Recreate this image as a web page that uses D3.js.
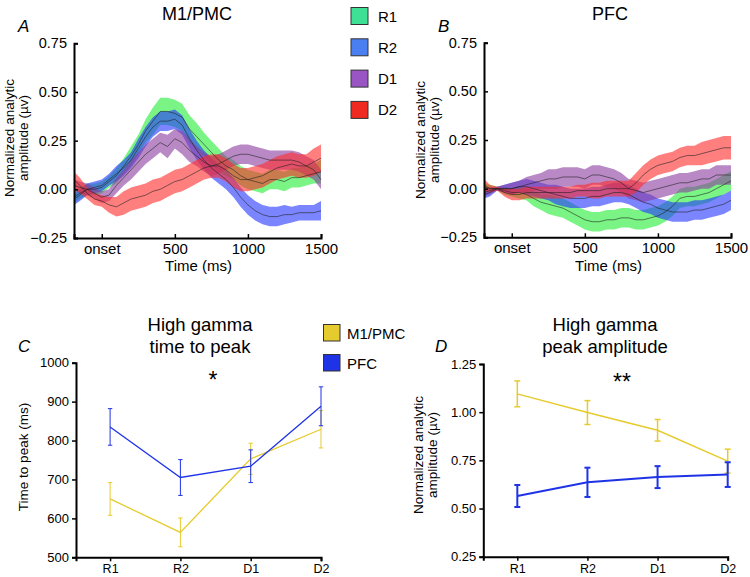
<!DOCTYPE html>
<html><head><meta charset="utf-8">
<script src="https://cdn.jsdelivr.net/npm/d3@7"></script>
<style>
html,body{margin:0;padding:0;background:#fff;}
svg{display:block;font-family:"Liberation Sans",Arial,Helvetica,sans-serif;}
</style></head>
<body><svg id="c" width="750" height="577"></svg>
<script>
// ---------- data ----------
const times = [-190,-150,-100,-50,0,50,100,150,200,250,300,350,400,450,500,550,600,650,700,750,800,850,900,950,1000,1050,1100,1150,1200,1250,1300,1350,1400,1450,1500];
const seriesNames = ["R1","R2","D1","D2"];
const timeTickValues = [0,500,1000,1500];
const timeTickLabels = ["onset","500","1000","1500"];
const ampTicks = [0.75,0.5,0.25,0,-0.25];

// Panel A (M1/PMC)
const A_R1 = [-0.04,-0.02,0.00,0.00,0.01, 0.04,0.07,0.12,0.17,0.23, 0.30,0.35,0.40,0.40,0.39, 0.37,0.31,0.27,0.23,0.19, 0.15,0.12,0.10,0.07,0.05, 0.04,0.03,0.05,0.05,0.04, 0.06,0.06,0.07,0.08,0.09];
const A_R1_sem = [0.03,0.03,0.03,0.03,0.03, 0.03,0.04,0.04,0.05,0.05, 0.06,0.07,0.07,0.07,0.07, 0.07,0.07,0.07,0.06,0.06, 0.06,0.05,0.05,0.05,0.05, 0.05,0.05,0.05,0.05,0.05, 0.05,0.05,0.05,0.05,0.06];
const A_R2 = [-0.05,-0.03,0.00,0.01,0.02, 0.05,0.08,0.11,0.15,0.21, 0.27,0.32,0.35,0.35,0.36, 0.33,0.26,0.20,0.15,0.11, 0.08,0.05,0.01,-0.04,-0.08, -0.11,-0.13,-0.14,-0.14,-0.13, -0.13,-0.12,-0.12,-0.12,-0.11];
const A_R2_sem = [0.03,0.03,0.03,0.03,0.03, 0.03,0.04,0.04,0.04,0.05, 0.05,0.05,0.05,0.05,0.05, 0.05,0.05,0.05,0.05,0.05, 0.05,0.05,0.05,0.05,0.05, 0.05,0.05,0.05,0.05,0.05, 0.04,0.04,0.04,0.04,0.05];
const A_D1 = [0.02,0.01,0.00,-0.02,-0.04, -0.03,0.02,0.06,0.10,0.14, 0.18,0.21,0.24,0.22,0.26, 0.24,0.20,0.17,0.14,0.12, 0.13,0.15,0.17,0.18,0.18, 0.17,0.16,0.15,0.15,0.15, 0.15,0.14,0.12,0.10,0.05];
const A_D1_sem = [0.03,0.03,0.03,0.03,0.03, 0.03,0.04,0.04,0.05,0.05, 0.05,0.05,0.05,0.06,0.05, 0.06,0.06,0.05,0.05,0.05, 0.05,0.05,0.05,0.05,0.05, 0.05,0.05,0.05,0.05,0.05, 0.05,0.05,0.05,0.05,0.05];
const A_D2 = [0.05,0.02,-0.02,-0.05,-0.06, -0.08,-0.09,-0.07,-0.05,-0.04, -0.03,-0.01,0.00,0.02,0.04, 0.05,0.07,0.09,0.11,0.12, 0.12,0.10,0.07,0.05,0.05, 0.06,0.07,0.09,0.11,0.12, 0.13,0.12,0.12,0.14,0.16];
const A_D2_sem = [0.04,0.04,0.03,0.03,0.03, 0.04,0.05,0.06,0.06,0.06, 0.06,0.06,0.06,0.06,0.06, 0.06,0.06,0.06,0.06,0.06, 0.06,0.06,0.06,0.06,0.06, 0.06,0.06,0.06,0.06,0.06, 0.06,0.06,0.06,0.07,0.07];

// Panel B (PFC)
const B_R1 = [0.01,0.00,0.00,-0.01,-0.02, -0.02,-0.03,-0.05,-0.07,-0.08, -0.09,-0.10,-0.12,-0.14,-0.16, -0.17,-0.17,-0.16,-0.16,-0.15, -0.15,-0.16,-0.16,-0.15,-0.14, -0.12,-0.09,-0.05,-0.04,-0.04, -0.03,-0.02,0.00,0.02,0.04];
const B_R1_sem = [0.02,0.02,0.01,0.02,0.02, 0.03,0.03,0.04,0.04,0.05, 0.05,0.05,0.05,0.05,0.05, 0.05,0.05,0.05,0.05,0.05, 0.05,0.05,0.05,0.05,0.05, 0.05,0.05,0.05,0.05,0.05, 0.05,0.05,0.05,0.05,0.05];
const B_R2 = [-0.03,-0.02,0.00,0.00,0.00, 0.01,0.01,0.00,-0.01,-0.02, -0.03,-0.04,-0.05,-0.05,-0.05, -0.04,-0.04,-0.03,-0.02,-0.02, -0.03,-0.05,-0.07,-0.08,-0.10, -0.11,-0.12,-0.12,-0.12,-0.11, -0.11,-0.10,-0.09,-0.08,-0.06];
const B_R2_sem = [0.02,0.02,0.01,0.02,0.03, 0.03,0.04,0.04,0.04,0.04, 0.05,0.05,0.05,0.05,0.05, 0.05,0.05,0.05,0.05,0.05, 0.05,0.05,0.05,0.05,0.05, 0.05,0.05,0.05,0.05,0.05, 0.05,0.05,0.05,0.05,0.05];
const B_D1 = [-0.02,-0.01,0.00,0.00,0.00, 0.01,0.02,0.03,0.04,0.05, 0.05,0.06,0.06,0.06,0.05, 0.07,0.07,0.06,0.05,0.03, 0.00,-0.01,-0.02,-0.01,0.00, 0.01,0.02,0.03,0.03,0.04, 0.05,0.05,0.07,0.07,0.07];
const B_D1_sem = [0.02,0.02,0.01,0.02,0.03, 0.03,0.04,0.04,0.04,0.05, 0.05,0.05,0.05,0.05,0.05, 0.05,0.05,0.05,0.05,0.05, 0.05,0.05,0.05,0.05,0.05, 0.05,0.05,0.05,0.05,0.05, 0.05,0.05,0.05,0.05,0.05];
const B_D2 = [0.02,0.00,0.00,-0.02,-0.03, -0.03,-0.02,-0.02,-0.02,-0.02, -0.02,-0.02,-0.02,-0.01,-0.01, -0.01,-0.01,0.00,0.00,0.00, 0.00,0.03,0.07,0.10,0.12, 0.13,0.14,0.16,0.17,0.17, 0.18,0.19,0.20,0.21,0.21];
const B_D2_sem = [0.03,0.02,0.01,0.02,0.03, 0.03,0.03,0.03,0.03,0.03, 0.03,0.03,0.03,0.03,0.03, 0.04,0.04,0.04,0.04,0.04, 0.04,0.05,0.05,0.05,0.05, 0.05,0.05,0.05,0.05,0.05, 0.06,0.06,0.06,0.06,0.06];

// Panels C & D
const conditions = ["R1","R2","D1","D2"];
const regionNames = ["M1/PMC","PFC"];
const C_m1 = [650, 564, 753, 829];
const C_m1_err = [42, 37, 40, 48];
const C_pfc = [835, 705, 734, 888];
const C_pfc_err = [47, 46, 42, 50];
const C_ticks = [500,600,700,800,900,1000];
const D_m1 = [1.095, 0.998, 0.906, 0.746];
const D_m1_err = [0.067, 0.062, 0.056, 0.062];
const D_pfc = [0.565, 0.636, 0.663, 0.676];
const D_pfc_err = [0.057, 0.076, 0.057, 0.064];
const D_ticks = [0.25,0.5,0.75,1.0,1.25];

// ---------- styles ----------
const bandColors = ["#22ee33","#2233ff","#8a3a9e","#ff2a2a"];
const legendColors = ["#3ee096","#4a7ff2","#9a55c4","#f02a20"];
const regionColors = ["#e6cb2e","#1f33e6"];
const font = '"Liberation Sans",Arial,Helvetica,sans-serif';

const svg = d3.select("#c");

function styleAxis(g){
  g.select(".domain").attr("stroke","#000").attr("stroke-width",2);
  g.selectAll(".tick line").attr("stroke","#000").attr("stroke-width",1.5);
  g.selectAll(".tick text").attr("fill","#000").style("font-family",font);
}

function timePanel(opts){
  const x = d3.scaleLinear().domain([-190,1500]).range([opts.x0, opts.x1]);
  const y = d3.scaleLinear().domain([-0.25,0.75]).range([opts.yb, opts.yt]);
  const g = svg.append("g");
  opts.series.forEach((s,i)=>{
    const d = times.map((t,k)=>({t, m:s.m[k], e:s.e[k]}));
    g.append("path").datum(d)
      .attr("fill", bandColors[i]).attr("fill-opacity",0.6)
      .attr("d", d3.area().x(p=>x(p.t)).y0(p=>y(p.m-p.e)).y1(p=>y(p.m+p.e)));
  });
  opts.series.forEach((s,i)=>{
    const d = times.map((t,k)=>({t, m:s.m[k]}));
    g.append("path").datum(d)
      .attr("fill","none").attr("stroke","#222").attr("stroke-width",0.7).attr("stroke-opacity",0.85)
      .attr("d", d3.line().x(p=>x(p.t)).y(p=>y(p.m)));
  });
  const ya = svg.append("g").attr("transform",`translate(${opts.x0},0)`)
    .call(d3.axisLeft(y).tickValues(ampTicks).tickSize(-4).tickPadding(7)
      .tickFormat(v=> v<0 ? "\u2212"+d3.format(".2f")(-v) : d3.format(".2f")(v)));
  ya.selectAll(".tick text").style("font-size","14.5px");
  styleAxis(ya);
  const xa = svg.append("g").attr("transform",`translate(0,${opts.yb})`)
    .call(d3.axisBottom(x).tickValues(timeTickValues).tickSize(-4).tickPadding(5)
      .tickFormat((v,i)=>timeTickLabels[i]));
  xa.selectAll(".tick text").style("font-size","15px");
  styleAxis(xa);
  svg.append("text").attr("x",(opts.x0+opts.x1)/2+1).attr("y",271).attr("text-anchor","middle")
    .style("font-family",font).style("font-size","15px").text("Time (ms)");
  svg.append("text").attr("x",opts.titleX).attr("y",20).attr("text-anchor","middle")
    .style("font-family",font).style("font-size","18px").text(opts.title);
  svg.append("text").attr("x",opts.letterX).attr("y",32)
    .style("font-family",font).style("font-size","17px").style("font-style","italic").text(opts.letter);
  const yl = svg.append("text").attr("transform",`translate(${opts.ylabX},${opts.ylabY}) rotate(-90)`)
    .attr("text-anchor","middle").style("font-family",font).style("font-size","13.5px");
  yl.append("tspan").attr("x",0).attr("dy",0).text("Normalized analytic");
  yl.append("tspan").attr("x",0).attr("dy","1.05em").text("amplitude (\u00b5v)");
}

timePanel({x0:74,x1:321,yt:43.3,yb:238,title:"M1/PMC",titleX:197,letter:"A",letterX:18,ylabX:14,ylabY:138,
  series:[{m:A_R1,e:A_R1_sem},{m:A_R2,e:A_R2_sem},{m:A_D1,e:A_D1_sem},{m:A_D2,e:A_D2_sem}]});
timePanel({x0:484,x1:731,yt:42.7,yb:237.3,title:"PFC",titleX:610,letter:"B",letterX:438,ylabX:425,ylabY:140,
  series:[{m:B_R1,e:B_R1_sem},{m:B_R2,e:B_R2_sem},{m:B_D1,e:B_D1_sem},{m:B_D2,e:B_D2_sem}]});

// legend A/B
seriesNames.forEach((n,i)=>{
  const cy = 16 + i*31.3;
  svg.append("rect").attr("x",351).attr("y",cy-8.5).attr("width",17).attr("height",17)
    .attr("fill",legendColors[i]).attr("stroke","#333").attr("stroke-width",1);
  svg.append("text").attr("x",378).attr("y",cy+5.5).style("font-family",font).style("font-size","15px").text(n);
});

// ---------- category panels ----------
function catPanel(opts){
  const x = d3.scaleLinear().domain([-0.485,3]).range([opts.x0,opts.x1]);
  const y = d3.scaleLinear().domain(opts.domain).range([opts.yb,opts.yt]);
  const g = svg.append("g");
  opts.series.forEach((s,i)=>{
    const d = s.m.map((v,k)=>({k,v,e:s.e[k]}));
    g.append("path").datum(d).attr("fill","none").attr("stroke",regionColors[i]).attr("stroke-width",opts.lw[i])
      .attr("d", d3.line().x(p=>x(p.k)).y(p=>y(p.v)));
    const eb = g.selectAll(null).data(d).enter().append("g").attr("stroke",regionColors[i]).attr("stroke-width",opts.ew[i]);
    eb.append("line").attr("x1",p=>x(p.k)).attr("x2",p=>x(p.k)).attr("y1",p=>y(p.v-p.e)).attr("y2",p=>y(p.v+p.e));
    eb.append("line").attr("x1",p=>x(p.k)-opts.cap).attr("x2",p=>x(p.k)+opts.cap).attr("y1",p=>y(p.v-p.e)).attr("y2",p=>y(p.v-p.e));
    eb.append("line").attr("x1",p=>x(p.k)-opts.cap).attr("x2",p=>x(p.k)+opts.cap).attr("y1",p=>y(p.v+p.e)).attr("y2",p=>y(p.v+p.e));
  });
  const ya = svg.append("g").attr("transform",`translate(${opts.x0},0)`)
    .call(d3.axisLeft(y).tickValues(opts.ticks).tickSize(4).tickPadding(3).tickFormat(opts.fmt));
  ya.selectAll(".tick text").style("font-size","13px");
  styleAxis(ya);
  const xa = svg.append("g").attr("transform",`translate(0,${opts.yb})`)
    .call(d3.axisBottom(x).tickValues([0,1,2,3]).tickSize(4).tickPadding(3).tickFormat(i=>conditions[i]));
  xa.selectAll(".tick text").style("font-size","12.5px");
  styleAxis(xa);
  const t = svg.append("text").attr("text-anchor","middle").style("font-family",font).style("font-size","18.5px");
  t.append("tspan").attr("x",opts.titleX).attr("y",331).text("High gamma");
  t.append("tspan").attr("x",opts.titleX).attr("y",353).text(opts.title2);
  svg.append("text").attr("x",opts.letterX).attr("y",352)
    .style("font-family",font).style("font-size","17px").style("font-style","italic").text(opts.letter);
  svg.append("text").attr("x",opts.starX).attr("y",opts.starY).attr("text-anchor","middle")
    .style("font-family",font).style("font-size","23px").text(opts.star);
}

catPanel({x0:76,x1:321,yt:362.7,yb:557.3,domain:[500,1000],ticks:C_ticks,fmt:d3.format("d"),
  series:[{m:C_m1,e:C_m1_err},{m:C_pfc,e:C_pfc_err}],lw:[1.3,1.3],ew:[1,1],cap:2.2,
  titleX:200,title2:"time to peak",letter:"C",letterX:18,starX:213,starY:388,star:"*"});
catPanel({x0:483.3,x1:727.7,yt:364,yb:556.7,domain:[0.25,1.25],ticks:D_ticks,fmt:d3.format(".2f"),
  series:[{m:D_m1,e:D_m1_err},{m:D_pfc,e:D_pfc_err}],lw:[1.5,2],ew:[1.5,2],cap:3,
  titleX:605,title2:"peak amplitude",letter:"D",letterX:435,starX:622,starY:390,star:"**"});

// y labels for C and D
svg.append("text").attr("transform","translate(28,457) rotate(-90)").attr("text-anchor","middle")
  .style("font-family",font).style("font-size","13.5px").text("Time to peak (ms)");
const dl = svg.append("text").attr("transform","translate(423,455) rotate(-90)").attr("text-anchor","middle")
  .style("font-family",font).style("font-size","13.5px");
dl.append("tspan").attr("x",0).attr("dy",0).text("Normalized analytic");
dl.append("tspan").attr("x",0).attr("dy","1.05em").text("amplitude (\u00b5v)");

// legend C/D
regionNames.forEach((n,i)=>{
  const cy = 333 + i*30;
  svg.append("rect").attr("x",323.5).attr("y",cy-8.5).attr("width",16.5).attr("height",16.5)
    .attr("fill",regionColors[i]).attr("stroke","#333").attr("stroke-width",1);
  svg.append("text").attr("x",347).attr("y",cy+5.5).style("font-family",font).style("font-size","15px").text(n);
});
</script></body></html>
